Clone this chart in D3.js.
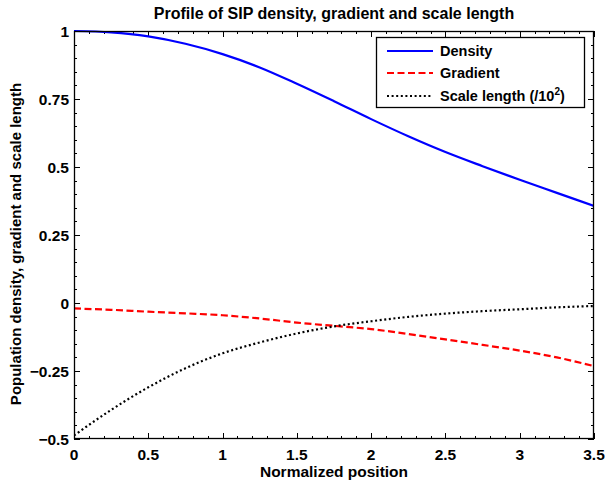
<!DOCTYPE html>
<html><head><meta charset="utf-8">
<script src="https://cdn.jsdelivr.net/npm/d3@7"></script>
<style>body{margin:0;background:#fff;}svg{display:block;font-family:"Liberation Sans",Arial,sans-serif;font-weight:bold;}</style>
</head><body><svg id="c" width="605" height="486"></svg>
<script>
const positions = [0,0.25,0.5,0.75,1,1.25,1.5,1.75,2,2.25,2.5,2.75,3,3.25,3.5];
const density   = [1,0.995,0.98,0.953,0.915,0.866,0.806,0.742,0.676,0.613,0.555,0.503,0.453,0.405,0.357];
const gradient  = [-0.02,-0.025,-0.032,-0.038,-0.045,-0.057,-0.072,-0.084,-0.096,-0.114,-0.134,-0.154,-0.175,-0.2,-0.232];
const scaleLen  = [-0.487,-0.393,-0.31,-0.24,-0.185,-0.145,-0.112,-0.086,-0.067,-0.051,-0.039,-0.03,-0.023,-0.016,-0.011];
const xTicks = [0,0.5,1,1.5,2,2.5,3,3.5];
const yTicks = [-0.5,-0.25,0,0.25,0.5,0.75,1];
const seriesNames = ["Density","Gradient","Scale length (/10"];

const svg = d3.select("#c");
const L=74,R=594,T=31,B=439;
const x = d3.scaleLinear().domain([0,3.5]).range([L,R]);
const y = d3.scaleLinear().domain([-0.5,1]).range([B,T]);

// ticks
const g = svg.append("g").attr("stroke","#000").attr("stroke-width",1);
const xMinor = d3.range(0,3.5001,0.1);
const yMinor = d3.range(-0.5,1.0001,0.05);
xMinor.forEach(v=>{
  const isMaj = Math.abs(v*2-Math.round(v*2))<1e-6;
  const len = isMaj?6:3;
  const px = Math.round(x(v))+0.5;
  g.append("line").attr("x1",px).attr("x2",px).attr("y1",B).attr("y2",B-len);
  g.append("line").attr("x1",px).attr("x2",px).attr("y1",T).attr("y2",T+len);
});
yMinor.forEach(v=>{
  const isMaj = Math.abs(v*4-Math.round(v*4))<1e-6;
  const len = isMaj?6:3;
  const py = Math.round(y(v))+0.5;
  g.append("line").attr("y1",py).attr("y2",py).attr("x1",L).attr("x2",L+len);
  g.append("line").attr("y1",py).attr("y2",py).attr("x1",R).attr("x2",R-len);
});

// tick labels
svg.append("g").selectAll("text").data(xTicks).join("text")
  .attr("x",d=>x(d)).attr("y",460).attr("text-anchor","middle")
  .attr("font-size",15.5).text(d=>d3.format("~g")(d));
svg.append("g").selectAll("text").data(yTicks).join("text")
  .attr("x",L-5).attr("y",d=>y(d)+5.5).attr("text-anchor","end")
  .attr("font-size",15.5).text(d=>d3.format("~g")(d));

// lines
svg.append("clipPath").attr("id","cp").append("rect").attr("x",L).attr("y",T-2).attr("width",R-L).attr("height",B-T+4);
const line = d3.line().x((d,i)=>x(positions[i])).y(d=>y(d)).curve(d3.curveMonotoneX);
const pg = svg.append("g").attr("clip-path","url(#cp)");
pg.append("path").attr("d",line(density)).attr("fill","none").attr("stroke","#0000ff").attr("stroke-width",2.2);
pg.append("path").attr("d",line(gradient)).attr("fill","none").attr("stroke","#ff0000").attr("stroke-width",2.2).attr("stroke-dasharray","7,3.5");
pg.append("path").attr("d",line(scaleLen)).attr("fill","none").attr("stroke","#000").attr("stroke-width",2.2).attr("stroke-dasharray","2,2.6");

// frame
svg.append("rect").attr("x",L+0.5).attr("y",T+0.5).attr("width",R-L-1).attr("height",B-T-1).attr("fill","none").attr("stroke","#000").attr("stroke-width",1.3);

// legend
const lg = svg.append("g");
lg.append("rect").attr("x",376.5).attr("y",37.5).attr("width",208).attr("height",70).attr("fill","#fff").attr("stroke","#000").attr("stroke-width",1.3);
const styles=[{c:"#0000ff",d:null},{c:"#ff0000",d:"7,3.5"},{c:"#000",d:"2,2.6"}];
const rowsY=[51,73,96];
seriesNames.forEach((n,i)=>{
  const ln = lg.append("line").attr("x1",387).attr("x2",433).attr("y1",rowsY[i]).attr("y2",rowsY[i]).attr("stroke",styles[i].c).attr("stroke-width",2.2);
  if(styles[i].d) ln.attr("stroke-dasharray",styles[i].d);
  const t = lg.append("text").attr("x",440).attr("y",rowsY[i]+5).attr("font-size",14.5).text(n);
  if(i===2){
    t.append("tspan").attr("font-size",10).attr("dy",-6).text("2");
    t.append("tspan").attr("dy",6).attr("font-size",14.5).text(")");
  }
});

// title and labels
svg.append("text").attr("x",(L+R)/2).attr("y",19).attr("text-anchor","middle").attr("font-size",16).text("Profile of SIP density, gradient and scale length");
svg.append("text").attr("x",(L+R)/2).attr("y",477).attr("text-anchor","middle").attr("font-size",15.5).text("Normalized position");
svg.append("text").attr("transform",`translate(21,244) rotate(-90)`).attr("text-anchor","middle").attr("font-size",15).text("Population density, gradient and scale length");
</script></body></html>
